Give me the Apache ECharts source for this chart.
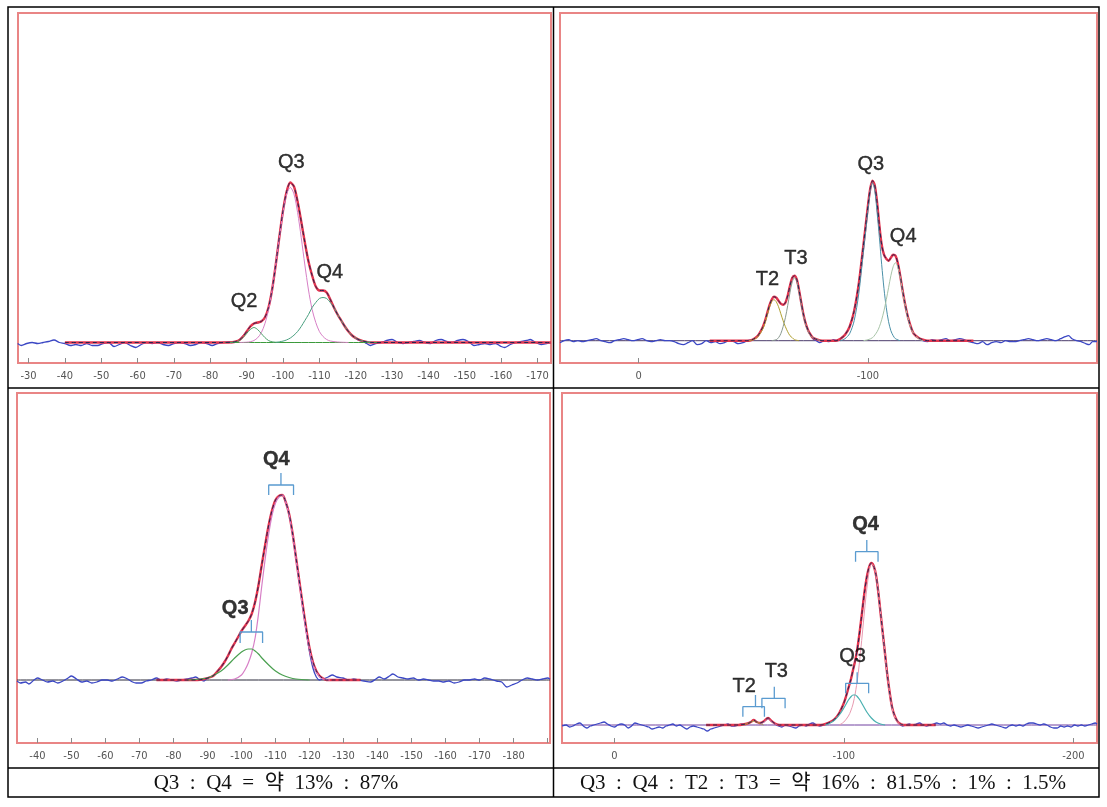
<!DOCTYPE html>
<html>
<head>
<meta charset="utf-8">
<script src="https://cdn.jsdelivr.net/npm/echarts@6/dist/echarts.min.js"></script>
<style>
html, body { margin: 0; padding: 0; background: #fff; }
#chart { width: 1107px; height: 807px; }
</style>
</head>
<body>
<div id="chart"></div>
<script>
// ---- top-left spectrum (ppm, intensity) ----
const p1Range = [-173.7, -27.1];
const p1YRange = [-20.5, 329.5];
const p1Ticks = [-30, -40, -50, -60, -70, -80, -90, -100, -110, -120, -130, -140, -150, -160, -170];
const p1Exp = [[-27,-1],[-28,-3],[-29.5,-1],[-31,0],[-32.5,-1],[-34,0],[-35.5,1],[-37,2.5],[-38.5,0],[-40,-1],[-41.5,-3],[-43,-2],[-44.5,-3],[-46,-1],[-47.5,-3],[-49,-3],[-50.5,-1],[-52,0],[-53.5,-4],[-55,-2],[-56.5,0],[-58,-3],[-59.5,-5],[-61,-2],[-62.5,0],[-64,-1],[-65.5,0],[-67,-2],[-68.5,-3],[-70,-1],[-71.5,0],[-73,-1],[-74.5,-3],[-76,-2],[-77.5,0],[-79,-1],[-80.5,-3],[-82,-1],[-83.5,0],[-85,0.5],[-86,0],[-87,1],[-88,2.5],[-89,6.5],[-90,11],[-91,16.5],[-92,19],[-93,19.5],[-94,21.5],[-95,25],[-96,35],[-97,53],[-98,78],[-99,106],[-100,132],[-101,151],[-102,160],[-103,156],[-104,141],[-105,121],[-106,100],[-107,81],[-108,67],[-109,56],[-110,52],[-111,52],[-112,50],[-113,43],[-114,35],[-115,28],[-116,22],[-117,16],[-118,11],[-119,7],[-120,4],[-121,2],[-122,1],[-123,-1],[-124,-3],[-125.5,-1],[-127,0],[-128.5,2],[-130,3],[-131.5,0],[-133,-1],[-134.5,0],[-136,1],[-137.5,2],[-139,0],[-140.5,-1],[-142,2],[-143.5,3],[-145,1],[-146.5,0],[-148,2],[-149.5,3],[-151,1],[-152.5,-3],[-154,-2],[-155.5,-1],[-157,-2],[-158.5,-1],[-160,-4],[-161,-5],[-162.5,-2],[-164,0],[-165.5,1],[-167,2],[-168,3],[-169.5,0],[-171,-2],[-172.5,-1],[-173.7,0]];
const p1Fit = [[-40,0],[-84,0],[-86,0.3],[-87,1],[-88,2.5],[-89,6],[-90,11],[-91,16],[-92,19],[-93,20],[-94,21],[-95,25],[-96,35],[-97,53],[-98,78],[-99,106],[-100,132],[-101,151],[-102,160],[-103,156],[-104,141],[-105,121],[-106,100],[-107,81],[-108,67],[-109,56],[-110,52],[-111,52],[-112,50],[-113,43],[-114,35],[-115,28],[-116,22],[-117,16],[-118,11],[-119,7],[-120,4.5],[-121,2.6],[-122,1.4],[-123,0.6],[-124,0],[-173.7,0]];
const p1Q2 = [[-85,0],[-87,0.7],[-88,2],[-89,5],[-90,9],[-91,13],[-92,15],[-93,13],[-94,9],[-95,5],[-96,2],[-97,0.7],[-99,0]];
const p1Q3 = [[-88,0],[-90,0.3],[-91,0.8],[-92,2],[-93,4.7],[-94,9.7],[-95,18.7],[-96,32.7],[-97,52.5],[-98,77.5],[-99,105],[-100,130],[-101,148.5],[-102,155],[-103,148.5],[-104,130],[-105,105],[-106,77.5],[-107,52.5],[-108,33],[-109,20],[-110,11],[-111,6],[-112,3],[-113,1.5],[-115,0.5],[-118,0]];
const p1Q4 = [[-98,0],[-99,0.7],[-100,1.4],[-101,2.6],[-102,4.5],[-103,7.3],[-104,11],[-105,16],[-106,22],[-107,28],[-108,35],[-109,40],[-110,44],[-111,45],[-112,44],[-113,40],[-114,35],[-115,28],[-116,22],[-117,16],[-118,11],[-119,7],[-120,4.5],[-121,2.6],[-122,1.4],[-123,0.7],[-125,0]];
const p1Base = [[-84,0],[-126,0]];
const p1Peaks = [[-102.4,179.5,'Q3',0],[-113.0,69.5,'Q4',0],[-89.4,40.5,'Q2',0]];

// ---- top-right spectrum ----
const p2Range = [-199.9, 34.3];
const p2YRange = [-22.3, 327.7];
const p2Ticks = [0, -100, -200];
const p2LabelVals = [0, -100];
const p2Exp = [[34.3,-2],[32.5,0],[30.5,1],[28.5,-1],[26.5,0],[24.5,-1],[22.5,0],[20.5,1],[18.5,2],[16.5,0],[14.5,-1],[12.5,-2],[10.5,0],[8.5,1],[6.5,2],[4.5,1],[2.5,0],[0.5,1],[-1.5,2],[-3.5,0],[-5.5,-1],[-7.5,0],[-9.5,1],[-11.5,0],[-13.5,0],[-15.5,-1],[-17.5,-3],[-19.5,-4],[-21.5,-2],[-23.5,0],[-25.5,-4],[-27.5,-3],[-29.5,0],[-31.5,-2],[-33.5,-1],[-35.5,-3],[-37.5,-2],[-39.5,0],[-41.5,-1],[-43.5,-3],[-45.5,-2],[-47.5,0],[-49.5,1],[-51,3],[-52,5],[-54,13],[-55,19],[-56,27],[-57,35],[-58,41],[-59,44],[-60,43],[-61,40],[-62,37],[-63,36],[-64,38],[-65,45],[-66,55],[-67,63],[-68,65],[-69,61],[-70,50],[-71,37],[-72,25],[-73,16],[-74,10],[-75,6],[-76,2],[-77.5,0],[-79,-2],[-81,0],[-83,-1],[-85,1],[-86.5,0],[-88,2],[-90,6],[-92,14],[-94,30],[-96,57],[-98,95],[-100,135],[-101,152],[-102,160],[-103,155],[-104,138],[-105,115],[-106,96],[-107,86],[-108,82],[-109,80],[-110,83],[-111,86],[-112,85],[-113,78],[-114,66],[-115,52],[-116,39],[-117,28],[-118,19],[-119,12],[-120,7],[-122,3],[-124,0],[-126,-1],[-128,1],[-130,0],[-132,1],[-134,2],[-136,0],[-138,1],[-140,2],[-142,1],[-144,-1],[-146,-2],[-148,-3],[-150,-1],[-152,-4],[-154,-2],[-156,-1],[-158,-2],[-160,0],[-162,-1],[-164,-1],[-166,0],[-168,1],[-170,2],[-172,1],[-174,0],[-176,1],[-178,2],[-180,1],[-182,0],[-184,2],[-186,4],[-187.5,5],[-189,2],[-191,0],[-193,-1],[-195,-3],[-196.5,-4],[-198,-1],[-199.9,-1]];
const p2Fit = [[-31,0],[-48,0],[-50,1.5],[-52,5],[-54,13],[-55,19],[-56,27],[-57,35],[-58,41],[-59,44],[-60,43],[-61,40],[-62,37],[-63,36],[-64,38],[-65,45],[-66,55],[-67,63],[-68,65],[-69,61],[-70,50],[-71,37],[-72,25],[-73,16],[-74,10],[-75,6],[-76,3],[-78,1],[-80,0],[-86,0],[-88,2],[-90,6],[-92,14],[-94,30],[-96,57],[-98,95],[-100,135],[-101,152],[-102,160],[-103,155],[-104,138],[-105,115],[-106,96],[-107,86],[-108,82],[-109,80],[-110,83],[-111,86],[-112,85],[-113,78],[-114,66],[-115,52],[-116,39],[-117,28],[-118,19],[-119,12],[-120,7],[-122,3],[-124,1],[-126,0],[-146,0]];
const p2T2 = [[-48,0],[-50,1],[-52,4],[-54,11],[-55,17],[-56,25],[-57,33],[-58,39],[-59,41],[-60,39],[-61,34],[-62,27],[-63,20],[-64,14],[-65,9],[-66,5],[-67,3],[-68,1],[-70,0]];
const p2T3 = [[-58,0],[-60,1],[-61,3],[-62,7],[-63,14],[-64,23],[-65,35],[-66,48],[-67,59],[-68,63],[-69,59],[-70,48],[-71,35],[-72,24],[-73,15],[-74,9],[-75,5],[-76,3],[-78,1],[-80,0]];
const p2Q3 = [[-88,0],[-90,2],[-92,7],[-94,20],[-96,47],[-98,88],[-100,130],[-101,150],[-102,158],[-103,150],[-104,128],[-105,103],[-106,76],[-107,52],[-108,33],[-109,19],[-110,10],[-111,5],[-112,2],[-114,0]];
const p2Q4 = [[-98,0],[-100,1],[-102,3],[-104,9],[-105,14],[-106,21],[-107,30],[-108,41],[-109,53],[-110,65],[-111,74],[-112,78],[-113,74],[-114,64],[-115,51],[-116,38],[-117,27],[-118,18],[-119,11],[-120,7],[-122,2],[-124,0]];
const p2Base = [[34.3,0],[-199.9,0]];
const p2Peaks = [[-101.5,175.7,'Q3',0],[-115.6,103.7,'Q4',0],[-68.8,81.7,'T3',0],[-56.4,60.7,'T2',0]];

// ---- bottom-left spectrum ----
const p3Range = [-190.7, -34.0];
const p3YRange = [-63, 287];
const p3Ticks = [-40, -50, -60, -70, -80, -90, -100, -110, -120, -130, -140, -150, -160, -170, -180, -190];
const p3LabelVals = [-40, -50, -60, -70, -80, -90, -100, -110, -120, -130, -140, -150, -160, -170, -180];
const p3Exp = [[-34,-1],[-35,-3],[-36.5,-2],[-37.5,-4],[-39,0],[-40,2],[-41.5,0],[-43,-2],[-44.5,-1],[-46,-3],[-47.5,-1],[-49,2],[-50,4],[-51.5,1],[-53,-2],[-54.5,-1],[-56,-3],[-57.5,-2],[-59,0],[-60.5,0],[-62,-1],[-63.5,1],[-65,3],[-66.5,1],[-68,-2],[-69,-3],[-70.5,-3],[-72,-1],[-73.5,0],[-75,2],[-76.5,0],[-78,1],[-79.5,0],[-81,-1],[-82.5,0],[-84,1],[-85.5,2],[-86.5,3],[-88,0],[-89,-1],[-90,2],[-91,3],[-92,5],[-93,9],[-94,13],[-95,18],[-96,24],[-97,31],[-98,37],[-99,43],[-100,49],[-101,54],[-102,59],[-103,66],[-104,78],[-105,95],[-106,116],[-107,136],[-108,155],[-109,170],[-110,180],[-111,184],[-112,185],[-113,178],[-114,166],[-115,147],[-116,123],[-117,99],[-118,74],[-119,50],[-120,28],[-121,12],[-122,3],[-123,0],[-124,1],[-125.5,3],[-126.7,5],[-128,3],[-129.8,2],[-131.5,0],[-133,1],[-134.5,0],[-136,-1],[-138,-2],[-139.5,1],[-140.5,3],[-142,1],[-143.5,4],[-144.5,6],[-146,3],[-147.5,2],[-149,1],[-150.5,2],[-152,0],[-153.5,1],[-155,0],[-156.5,-1],[-158,-1],[-159.5,-2],[-161,-1],[-162.5,-3],[-164,-2],[-165.5,0],[-167,0],[-168.5,1],[-170,0],[-171.5,2],[-173,1],[-175,-1],[-176.5,-2],[-178,-7],[-179.5,-5],[-181,-3],[-182.5,0],[-184,2],[-185.5,1],[-187,0],[-188.5,1],[-190,2],[-190.7,1]];
const p3Fit = [[-75,0],[-87,0],[-89,1],[-91,3],[-92,5],[-93,9],[-94,13],[-95,18],[-96,24],[-97,31],[-98,37],[-99,43],[-100,49],[-101,54],[-102,59],[-103,66],[-104,78],[-105,95],[-106,116],[-107,136],[-108,155],[-109,170],[-110,180],[-111,184],[-112,185],[-113,178],[-114,166],[-115,147],[-116,123],[-117,99],[-118,75],[-119,52],[-120,32],[-121,18],[-122,9],[-123,4],[-124,1.5],[-125,0],[-135,0]];
const p3Q4 = [[-96,0],[-98,1],[-100,5],[-101,10],[-102,17],[-103,27],[-104,42],[-105,66],[-106,95],[-107,122],[-108,146],[-109,165],[-110,177],[-111,183],[-112,185],[-113,178],[-114,165],[-115,146],[-116,122],[-117,97],[-118,72],[-119,49],[-120,30],[-121,16],[-122,8],[-123,3],[-124,1],[-126,0]];
const p3Q3 = [[-84,0],[-88,1],[-90,2],[-92,5],[-94,9],[-96,15],[-98,22],[-100,28],[-101,30],[-102,31],[-103,31],[-104,29],[-105,26],[-106,22],[-108,15],[-110,9],[-112,5],[-114,2.5],[-116,1],[-120,0]];
const p3Base = [[-34,0],[-190.7,0]];
const p3Peaks = [[-110.4,220,'Q4',1],[-98.3,71,'Q3',1]];
// bracket: [ppm start, ppm end, ppm centre, end height, bar height, tip height]
const p3Brackets = [[-108.0,-115.3,-111.6,185,195,207],[-99.6,-106.2,-102.9,37,48,60]];

// ---- bottom-right spectrum ----
const p4Range = [-210.3, 22.8];
const p4YRange = [-18, 332];
const p4Ticks = [0, -100, -200];
const p4Exp = [[22.8,-1],[21,0],[19.5,-2],[18,-1],[16.5,1],[15,2],[13.5,-1],[12,-3],[10.5,-1],[9,0],[7.5,1],[6,2],[4.5,3],[3,1],[1.5,-1],[0,-2],[-1.5,0],[-3,1],[-4.5,0],[-6,-3],[-7.5,-1],[-9,2],[-10.5,1],[-12,0],[-13.5,-1],[-15,-2],[-16.5,-4],[-18,-3],[-19.5,-2],[-21,-3],[-22.5,-1],[-24,0],[-25.5,1],[-27,-1],[-28.5,0],[-30,-2],[-31.5,-4],[-33,-2],[-34.5,-1],[-36,-2],[-37.5,-3],[-39,-4],[-40.5,-6],[-42,-4],[-43.5,-3],[-45,-2],[-46.5,-1],[-48,0],[-49.5,1],[-51,-1],[-52.5,-1],[-54,0],[-55.5,1],[-57,1],[-58.5,2],[-60,4],[-61,5],[-62,3],[-63.5,2],[-65,3],[-67,7],[-68.5,4],[-70,1],[-71.5,-1],[-73,-2],[-74.5,0],[-76,-1],[-77.5,-2],[-79,-3],[-80.5,-1],[-82,0],[-83.5,-1],[-85,1],[-86.5,2],[-88,0],[-89.5,-1],[-91,0],[-92,1],[-94,3],[-96,6],[-98,12],[-100,22],[-101,29],[-102,37],[-103,45],[-104,55],[-105,65],[-106,78],[-107,95],[-108,114],[-109,133],[-110,148],[-111,158],[-112,162],[-113,159],[-114,150],[-115,133],[-116,112],[-117,91],[-118,70],[-119,49],[-120,32],[-121,18],[-122,10],[-123,5],[-124,2],[-125.5,-1],[-127,0],[-128.5,1],[-130,0],[-131.5,1],[-133,2],[-134.5,0],[-136,-1],[-137.5,0],[-139,1],[-140.5,2],[-142,1],[-143.5,2],[-145,0],[-146.5,-1],[-148,0],[-149.5,-1],[-151,-2],[-152.5,-1],[-154,0],[-155.5,-1],[-157,-2],[-158.5,-3],[-160,-2],[-161.5,-1],[-163,0],[-164.5,1],[-166,0],[-167.5,-1],[-169,-2],[-170.5,-3],[-172,-1],[-173.5,0],[-175,-1],[-176.5,0],[-178,-1],[-179.5,1],[-181,2],[-182.5,2],[-184,1],[-185.5,0],[-187,1],[-188.5,0],[-190,-2],[-191.5,-3],[-193,-3],[-194.5,-1],[-196,-2],[-197.5,-1],[-199,-2],[-200.5,0],[-202,-1],[-203.5,0],[-205,-1],[-206.5,0],[-208,1],[-209.5,2],[-210.3,1]];
const p4Fit = [[-40,0],[-54,0],[-56,0.5],[-58,1.5],[-59.5,3],[-60.7,5],[-62,3],[-63.5,2],[-65,3.5],[-67,7],[-68.5,4],[-70,1.5],[-72,0],[-90,0],[-92,1],[-94,3],[-96,6],[-98,12],[-100,22],[-101,29],[-102,37],[-103,45],[-104,55],[-105,65],[-106,78],[-107,95],[-108,114],[-109,133],[-110,148],[-111,158],[-112,162],[-113,159],[-114,150],[-115,133],[-116,112],[-117,91],[-118,70],[-119,49],[-120,32],[-121,18],[-122,10],[-123,5],[-124,2],[-126,0],[-140,0]];
const p4Q4 = [[-98,0],[-100,3],[-102,9],[-103,14],[-104,21],[-105,32],[-106,47],[-107,67],[-108,90],[-109,114],[-110,136],[-111,153],[-112,161],[-113,159],[-114,149],[-115,133],[-116,112],[-117,90],[-118,69],[-119,48],[-120,31],[-121,17],[-122,9],[-123,4],[-124,1.5],[-126,0]];
const p4Q3 = [[-92,0],[-94,2],[-96,5],[-98,10],[-100,17],[-101,21],[-102,25],[-103,28],[-104,30],[-105,30],[-106,28],[-107,25],[-108,21],[-110,13],[-112,7],[-114,3],[-116,1],[-118,0]];
const p4T2 = [[-56,0],[-58,1.5],[-60,3.5],[-61,4],[-62,3],[-64,1],[-65,0]];
const p4T3 = [[-63,0],[-65,2.5],[-67,6],[-68.5,3.5],[-70,1],[-71,0]];
const p4Base = [[22.8,0],[-210.3,0]];
const p4Peaks = [[-109.7,200,'Q4',1],[-104,68,'Q3',0],[-56.8,38,'T2',0],[-70.8,53,'T3',0]];
const p4Brackets = [[-105.1,-114.9,-110,163.3,173.3,185],[-100.8,-110.8,-105.8,31.7,41.7,52.7],[-56,-65.4,-61.5,8.3,18.3,30],[-64.3,-74.4,-69.7,16.7,26.7,38.3]];

const ratioLeft = 'Q3  :  Q4  =  약  13%  :  87%';
const ratioRight = 'Q3  :  Q4  :  T2  :  T3  =  약  16%  :  81.5%  :  1%  :  1.5%';

// ---- building the chart ----
const RED = '#e5364f', BLUE = '#3b47c4', DARK = '#2a2450', BRACKET = '#5a9bd0';

function lineS(i, data, color, width, z, dash) {
    return {
        type: 'line', xAxisIndex: i, yAxisIndex: i, data: data,
        symbol: 'none', smooth: 0.3, z: z, silent: true,
        lineStyle: { color: color, width: width, type: dash || 'solid' }
    };
}

function peakLabels(i, list) {
    return {
        type: 'scatter', xAxisIndex: i, yAxisIndex: i, z: 8, silent: true,
        symbolSize: 1, itemStyle: { color: 'rgba(0,0,0,0)' },
        data: list.map(p => ({
            value: [p[0], p[1], p[2]],
            label: { fontWeight: p[3] ? 'bold' : 'normal' }
        })),
        label: {
            show: true, position: [0, 0], align: 'center', verticalAlign: 'middle',
            formatter: p => p.value[2], color: '#000',
            textBorderColor: '#000', textBorderWidth: 0.4,
            fontSize: 20, fontFamily: 'Liberation Sans, Arial, sans-serif'
        }
    };
}

function brackets(i, list) {
    return list.map(b => ({
        type: 'line', xAxisIndex: i, yAxisIndex: i, z: 7, silent: true,
        symbol: 'none', smooth: false,
        lineStyle: { color: BRACKET, width: 1.3 },
        data: [[b[0], b[3]], [b[0], b[4]], [b[2], b[4]], [b[2], b[5]], [b[2], b[4]], [b[1], b[4]], [b[1], b[3]]]
    }));
}

function xAx(i, range, ticks, labels) {
    return {
        gridIndex: i, type: 'value', inverse: true, min: range[0], max: range[1],
        axisLine: { show: false, onZero: false },
        splitLine: { show: false },
        axisTick: { show: true, inside: true, length: 5, customValues: ticks, lineStyle: { color: '#8a8a8a' } },
        axisLabel: {
            customValues: labels || ticks, margin: 8, color: '#555', fontSize: 11,
            fontFamily: '"Liberation Sans Narrow", "DejaVu Sans Condensed", sans-serif'
        }
    };
}

function yAx(i, range) {
    return { gridIndex: i, type: 'value', min: range[0], max: range[1], show: false };
}

const frame = { show: true, borderColor: '#e98585', borderWidth: 2, backgroundColor: '#fff' };

const series = [].concat(
    [lineS(0, p1Exp, BLUE, 1.3, 2), lineS(0, p1Fit, RED, 2.4, 3), lineS(0, p1Base, '#3c9a3c', 1, 4),
     lineS(0, p1Q3, '#d77fc6', 1, 4), lineS(0, p1Q2, '#4aa068', 1, 4), lineS(0, p1Q4, '#4aa080', 1, 4),
     lineS(0, p1Fit, DARK, 1, 5, [4, 3]), peakLabels(0, p1Peaks)],
    [lineS(1, p2Base, '#4a3a6a', 1, 1), lineS(1, p2Exp, BLUE, 1.3, 2), lineS(1, p2Fit, RED, 2.4, 3),
     lineS(1, p2T2, '#b0a030', 1, 4), lineS(1, p2T3, '#8a9a90', 1, 4), lineS(1, p2Q3, '#4a90a8', 1, 4),
     lineS(1, p2Q4, '#a8c4a8', 1, 4), lineS(1, p2Fit, DARK, 1, 5, [4, 3]), peakLabels(1, p2Peaks)],
    [lineS(2, p3Base, '#2a2a3a', 1, 1), lineS(2, p3Exp, BLUE, 1.3, 2), lineS(2, p3Fit, RED, 2.4, 3),
     lineS(2, p3Q4, '#d77fc6', 1.2, 4), lineS(2, p3Q3, '#4aa050', 1.2, 4),
     lineS(2, p3Fit, DARK, 1, 5, [4, 3]), peakLabels(2, p3Peaks)],
    brackets(2, p3Brackets),
    [lineS(3, p4Base, '#7040a0', 1, 1), lineS(3, p4Exp, BLUE, 1.3, 2), lineS(3, p4Fit, RED, 2.4, 3),
     lineS(3, p4Q4, '#e89ab0', 1, 4), lineS(3, p4Q3, '#4ab0b0', 1.2, 4), lineS(3, p4T2, '#a0a040', 1, 4),
     lineS(3, p4T3, '#c070a0', 1, 4), lineS(3, p4Fit, DARK, 1, 5, [4, 3]), peakLabels(3, p4Peaks)],
    brackets(3, p4Brackets)
);

const tableFont = '21px "Liberation Serif", "Noto Sans CJK KR", serif';

const option = {
    animation: false,
    backgroundColor: '#fff',
    grid: [
        Object.assign({ left: 18, top: 13, width: 533, height: 350 }, frame),
        Object.assign({ left: 560, top: 13, width: 537, height: 350 }, frame),
        Object.assign({ left: 17, top: 393, width: 533, height: 350 }, frame),
        Object.assign({ left: 562, top: 393, width: 535, height: 350 }, frame)
    ],
    xAxis: [xAx(0, p1Range, p1Ticks), xAx(1, p2Range, p2Ticks, p2LabelVals), xAx(2, p3Range, p3Ticks, p3LabelVals), xAx(3, p4Range, p4Ticks)],
    yAxis: [yAx(0, p1YRange), yAx(1, p2YRange), yAx(2, p3YRange), yAx(3, p4YRange)],
    series: series,
    graphic: [
        { type: 'rect', z: 100, silent: true, shape: { x: 8, y: 7, width: 1091, height: 790 }, style: { fill: 'none', stroke: '#000', lineWidth: 1.5 } },
        { type: 'line', z: 100, silent: true, shape: { x1: 553.5, y1: 7, x2: 553.5, y2: 797 }, style: { stroke: '#000', lineWidth: 1.5 } },
        { type: 'line', z: 100, silent: true, shape: { x1: 8, y1: 388, x2: 1099, y2: 388 }, style: { stroke: '#000', lineWidth: 1.5 } },
        { type: 'line', z: 100, silent: true, shape: { x1: 8, y1: 768, x2: 1099, y2: 768 }, style: { stroke: '#000', lineWidth: 1.5 } },
        { type: 'text', z: 100, silent: true, x: 276, y: 783, style: { text: ratioLeft, font: tableFont, fill: '#111', align: 'center', verticalAlign: 'middle' } },
        { type: 'text', z: 100, silent: true, x: 823, y: 783, style: { text: ratioRight, font: tableFont, fill: '#111', align: 'center', verticalAlign: 'middle' } }
    ]
};

var myChart = echarts.init(document.getElementById('chart'));
myChart.setOption(option);
</script>
</body>
</html>
